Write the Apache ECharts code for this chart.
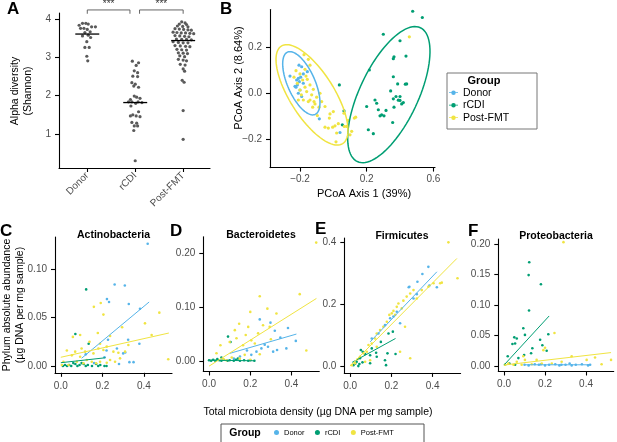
<!DOCTYPE html>
<html>
<head>
<meta charset="utf-8">
<script src="https://cdn.jsdelivr.net/npm/echarts@6/dist/echarts.min.js"></script>
<style>
  html, body { margin: 0; padding: 0; background: #fff; }
  #chart { width: 617px; height: 442px; }
</style>
</head>
<body>
<div id="chart"></div>
<script>
const groups = ['Donor', 'rCDI', 'Post-FMT'];
const groupColors = ['#56B4E9', '#009E73', '#F0E442'];

// panel A: [jitter offset, Shannon]
const aDonor = [[-0.17,3.84],[-0.10,3.89],[-0.03,3.89],[0.02,3.87],[0.09,3.80],[0.17,3.80],[-0.14,3.76],[-0.07,3.76],[0,3.73],[0.06,3.67],[-0.05,3.65],[0.02,3.58],[-0.10,3.56],[0.07,3.52],[-0.01,3.41],[-0.05,3.26],[0.04,3.26],[-0.01,3.03],[0.01,2.91]];
const aRcdi = [[-0.06,2.90],[0.07,2.86],[0.02,2.79],[-0.02,2.65],[0.05,2.60],[-0.05,2.51],[0.05,2.50],[-0.07,2.34],[0,2.30],[-0.03,2.25],[0.07,2.22],[-0.02,1.99],[0.03,1.96],[-0.10,1.90],[0.10,1.93],[-0.14,1.84],[-0.07,1.84],[0.01,1.80],[0.06,1.84],[0.14,1.82],[-0.09,1.73],[0.07,1.58],[-0.10,1.47],[-0.05,1.50],[0.02,1.47],[0.10,1.45],[-0.07,1.30],[0.03,1.28],[-0.02,1.21],[0.05,1.21],[-0.03,1.09],[0,0.30]];
const aPost = [[-0.03,3.93],[0.04,3.90],[-0.08,3.87],[0.07,3.86],[-0.12,3.82],[-0.01,3.81],[0.10,3.80],[-0.17,3.75],[-0.08,3.74],[0.01,3.73],[0.10,3.72],[0.17,3.71],[-0.21,3.66],[-0.13,3.65],[-0.04,3.64],[0.05,3.64],[0.14,3.63],[0.22,3.62],[-0.17,3.57],[-0.07,3.56],[0.03,3.55],[0.12,3.54],[-0.14,3.48],[-0.03,3.47],[0.07,3.47],[0.17,3.46],[-0.21,3.41],[-0.10,3.39],[0,3.38],[0.10,3.38],[-0.17,3.31],[-0.06,3.30],[0.05,3.29],[0.14,3.28],[-0.13,3.21],[-0.03,3.20],[0.07,3.19],[-0.10,3.12],[0,3.11],[0.09,3.10],[-0.07,3.04],[0.03,3.02],[-0.10,2.95],[0,2.93],[0.07,2.91],[-0.06,2.82],[0.04,2.80],[0,2.70],[0.03,2.64],[-0.02,2.40],[0.02,2.35],[0,1.61],[0,0.86]];
const aMedians = [3.61, 1.82, 3.44];
const aBrackets = [[0, 0.89], [1.09, 2.0]];

// panel B: PCoA axis 1, axis 2
const pcoaDonor = [[-0.206,0.121],[-0.19,0.114],[-0.26,0.074],[-0.21,0.064],[-0.22,0.057],[-0.204,0.05],[-0.216,0.036],[-0.224,0.026],[-0.20,0.014],[-0.18,0.043],[-0.156,0.093],[-0.19,-0.014],[-0.084,-0.11],[0.04,-0.169],[-0.18,0.083],[-0.196,0.069],[-0.23,0.03],[-0.21,0.0]];
const pcoaRcdi = [[0.476,0.353],[0.534,0.326],[0.30,0.254],[0.40,0.226],[0.364,0.157],[0.36,0.149],[0.436,0.16],[0.216,0.10],[0.36,0.071],[0.386,0.04],[0.432,0.039],[0.44,0.04],[0.344,0.01],[0.036,0.036],[0.376,-0.014],[0.40,-0.014],[0.36,-0.024],[0.40,-0.031],[0.41,-0.046],[0.364,-0.06],[0.20,-0.057],[0.25,-0.029],[0.26,-0.043],[0.27,-0.071],[0.29,-0.093],[0.28,-0.097],[0.316,-0.074],[0.304,-0.097],[0.356,-0.126],[0.064,-0.076],[0.054,-0.136],[0.21,-0.157],[0.24,-0.174],[0.42,-0.04],[0.39,-0.03]];
const pcoaPost = [[-0.176,0.166],[-0.15,0.146],[-0.14,0.121],[-0.224,0.097],[-0.2,0.083],[-0.17,0.103],[-0.184,0.057],[-0.156,0.06],[-0.14,0.036],[-0.17,0.026],[-0.2,0.014],[-0.16,0.007],[-0.13,-0.007],[-0.10,-0.017],[-0.14,-0.029],[-0.18,-0.029],[-0.21,-0.029],[-0.116,-0.036],[-0.07,-0.036],[-0.05,-0.057],[-0.086,-0.06],[-0.11,-0.046],[-0.02,-0.089],[0.0,-0.079],[-0.024,-0.107],[-0.05,-0.146],[-0.03,-0.15],[0.01,-0.14],[0.03,-0.131],[-0.004,-0.146],[0.016,-0.209],[0.02,-0.171],[0.064,-0.086],[0.09,-0.117],[0.11,-0.164],[0.10,-0.179],[0.126,-0.107],[0.134,-0.103],[0.066,-0.143],[0.08,-0.143],[0.456,0.243],[-0.096,-0.096],[-0.15,-0.036],[-0.124,-0.06],[-0.216,0.043],[-0.192,-0.007],[-0.164,0.074],[-0.12,0.017],[-0.236,0.069],[-0.08,0.0]];
// ellipses: centre x, centre y, semi-axis u (x, y), semi-axis v (x, y), group
const pcoaEllipses = [
  [-0.192, 0.043, 0.083, -0.134, -0.075, -0.024, 0],
  [0.333, -0.006, 0.189, 0.288, 0.159, -0.053, 1],
  [-0.128, -0.007, 0.184, -0.210, -0.113, -0.051, 2]
];

// panels C-F: total density, phylum abundance
const actDonor = [[0.418,0.126],[0.259,0.084],[0.308,0.083],[0.222,0.069],[0.232,0.066],[0.327,0.064],[0.381,0.059],[0.227,0.027],[0.324,0.027],[0.378,0.023],[0.27,0.018],[0.30,0.013],[0.31,0.014],[0.21,0.009],[0.12,0.012],[0.33,0.004],[0.35,0.004],[0.28,0.002],[0.16,0.003],[0.22,0.016]];
const actRcdi = [[0.01,0.0],[0.02,0.001],[0.03,0.0],[0.04,0.001],[0.05,0.0],[0.07,0.002],[0.08,0.0],[0.09,0.001],[0.10,0.003],[0.11,0.002],[0.12,0.0],[0.13,0.001],[0.15,0.0],[0.17,0.002],[0.18,0.0],[0.19,0.001],[0.21,0.0],[0.22,0.0],[0.06,0.003],[0.122,0.079],[0.07,0.033],[0.134,0.023]];
const actPost = [[0.192,0.065],[0.205,0.053],[0.058,0.030],[0.093,0.032],[0.178,0.034],[0.138,0.025],[0.295,0.040],[0.405,0.044],[0.474,0.055],[0.437,0.032],[0.517,0.007],[0.237,0.031],[0.10,0.018],[0.029,0.016],[0.053,0.011],[0.093,0.0096],[0.117,0.0148],[0.157,0.013],[0.181,0.018],[0.205,0.0165],[0.221,0.020],[0.253,0.0148],[0.277,0.0137],[0.309,0.0148],[0.285,0.0079],[0.237,0.0062],[0.189,0.0044],[0.149,0.0044],[0.125,0.0062],[0.077,0.0044],[0.0125,0.0044],[0.005,0.001],[0.037,0.001],[0.109,0.0028],[0.17,0.0028],[0.221,0.0034],[0.261,0.0044],[0.069,0.0148],[0.189,0.023],[0.325,0.0216],[0.159,0.061]];
const bacDonor = [[0.246,0.077],[0.298,0.071],[0.383,0.061],[0.319,0.056],[0.346,0.043],[0.421,0.037],[0.375,0.023],[0.311,0.017],[0.286,0.026],[0.254,0.023],[0.23,0.017],[0.184,0.019],[0.205,0.011],[0.15,0.008],[0.12,0.004],[0.27,0.03],[0.33,0.02]];
const bacRcdi = [[0.0,0.001],[0.01,0.0],[0.02,0.002],[0.03,0.0],[0.04,0.003],[0.05,0.001],[0.06,0.0],[0.07,0.002],[0.09,0.0],[0.1,0.001],[0.12,0.0],[0.13,0.002],[0.15,0.0],[0.17,0.001],[0.19,0.0],[0.2,0.001],[0.22,0.0],[0.092,0.045],[0.104,0.035],[0.06,0.006],[0.14,0.004]];
const bacPost = [[0.246,0.12],[0.44,0.124],[0.52,0.22],[0.283,0.097],[0.2,0.091],[0.327,0.088],[0.146,0.069],[0.262,0.066],[0.125,0.057],[0.238,0.051],[0.178,0.048],[0.1,0.035],[0.133,0.042],[0.205,0.038],[0.222,0.032],[0.036,0.014],[0.055,0.029],[0.165,0.029],[0.472,0.019],[0.173,0.011],[0.246,0.012],[0.149,0.004],[0.084,0.001],[0.294,0.063],[0.19,0.063],[0.07,0.003],[0.11,0.006],[0.2,0.002],[0.3,0.04]];
const firDonor = [[0.379,0.32],[0.35,0.297],[0.326,0.272],[0.284,0.254],[0.384,0.26],[0.42,0.254],[0.307,0.218],[0.287,0.256],[0.323,0.232],[0.226,0.175],[0.194,0.154],[0.169,0.132],[0.137,0.105],[0.105,0.089],[0.242,0.138],[0.21,0.16]];
const firRcdi = [[0.052,0.052],[0.061,0.046],[0.105,0.057],[0.126,0.043],[0.097,0.035],[0.129,0.030],[0.073,0.039],[0.048,0.025],[0.032,0.014],[0.045,0.0065],[0.016,0.003],[0.04,0.0],[0.097,0.009],[0.169,0.019],[0.174,0.003],[0.181,0.041],[0.207,0.111],[0.186,0.105],[0.149,0.078],[0.22,0.039],[0.06,0.012],[0.025,0.008]];
const firPost = [[0.008,0.003],[0.024,0.009],[0.036,0.022],[0.048,0.030],[0.065,0.041],[0.081,0.046],[0.089,0.068],[0.105,0.073],[0.121,0.089],[0.129,0.105],[0.145,0.116],[0.161,0.127],[0.178,0.143],[0.19,0.165],[0.202,0.17],[0.21,0.178],[0.226,0.191],[0.234,0.202],[0.25,0.186],[0.258,0.211],[0.274,0.224],[0.291,0.234],[0.307,0.245],[0.323,0.218],[0.347,0.245],[0.379,0.256],[0.404,0.267],[0.436,0.267],[0.242,0.046],[0.291,0.025],[0.218,0.165],[0.266,0.127],[0.129,0.062],[0.097,0.019],[0.073,0.014],[0.476,0.399],[0.52,0.283],[0.444,0.269]];
const proDonor = [[0.1,0.002],[0.12,0.001],[0.15,0.003],[0.17,0.002],[0.2,0.001],[0.22,0.002],[0.25,0.003],[0.27,0.001],[0.3,0.002],[0.32,0.004],[0.33,0.001],[0.35,0.002],[0.38,0.003],[0.41,0.001],[0.42,0.002],[0.28,0.002],[0.18,0.003]];
const proRcdi = [[0.18,0.134],[0.123,0.17],[0.12,0.149],[0.122,0.091],[0.094,0.062],[0.102,0.051],[0.05,0.047],[0.062,0.045],[0.041,0.036],[0.054,0.037],[0.176,0.043],[0.216,0.052],[0.187,0.034],[0.208,0.025],[0.138,0.029],[0.018,0.016],[0.07,0.013],[0.098,0.018],[0.132,0.021],[0.026,0.004],[0.054,0.002],[0.005,0.002]];
const proPost = [[0.29,0.203],[0.246,0.054],[0.192,0.026],[0.33,0.016],[0.403,0.01],[0.444,0.014],[0.476,0.003],[0.522,0.01],[0.159,0.01],[0.102,0.01],[0.062,0.007],[0.021,0.004],[0.094,0.016],[0.281,0.007],[0.005,0.002],[0.046,0.002],[0.086,0.002],[0.135,0.003],[0.184,0.004],[0.233,0.004],[0.2,0.03]];

// fitted lines [start, end]
const actFit = [[[0.10,0.008],[0.425,0.066]], [[0.0,0.0034],[0.215,0.0085]], [[0.0,0.009],[0.52,0.034]]];
const bacFit = [[[0.10,0.0137],[0.424,0.0497]], [[0.0,0.001],[0.22,0.0]], [[0.0,-0.01],[0.521,0.116]]];
const firFit = [[[0.097,0.078],[0.42,0.304]], [[0.01,0.012],[0.22,0.089]], [[0.0,0.0],[0.517,0.347]]];
const proFit = [[[0.1,0.002],[0.42,0.002]], [[0.0,0.0016],[0.22,0.082]], [[0.0,0.0016],[0.522,0.022]]];

const phyla = ['Actinobacteria', 'Bacteroidetes', 'Firmicutes', 'Proteobacteria'];
const phylumPoints = [[actDonor, actRcdi, actPost], [bacDonor, bacRcdi, bacPost], [firDonor, firRcdi, firPost], [proDonor, proRcdi, proPost]];
const phylumFits = [actFit, bacFit, firFit, proFit];
const phylumTicks = [[0, 0.05, 0.10], [0, 0.10, 0.20], [0, 0.2, 0.4], [0, 0.05, 0.10, 0.15, 0.20]];
const phylumDigits = [2, 2, 1, 2];
const phylumRange = [[-0.007, 0.133], [-0.02, 0.231], [-0.022, 0.413], [-0.009, 0.208]];
const densityTicks = [0, 0.2, 0.4];

const FONT = '"Liberation Sans", Arial, sans-serif';
const fmt = (v, d) => { const s = Math.abs(v).toFixed(d); return v < -1e-9 ? '\u2212' + s : s; };

function valAxis(gridIndex, min, max, ticks, labelFmt, extra) {
  return Object.assign({
    type: 'value', gridIndex, min, max,
    splitLine: { show: false },
    axisLine: { show: true, onZero: false, lineStyle: { color: '#000', width: 1.1 } },
    axisTick: { show: true, length: 4, customValues: ticks, lineStyle: { color: '#000', width: 1.1 } },
    axisLabel: { customValues: ticks, fontSize: 10, fontFamily: FONT, color: '#4d4d4d', margin: 8, formatter: labelFmt }
  }, extra || {});
}

const grids = [
  { left: 59, top: 13, width: 151, height: 155 },
  { left: 270, top: 9.6, width: 165, height: 158 },
  { left: 55, top: 237, width: 117, height: 135.8 },
  { left: 203.3, top: 236.7, width: 116, height: 134.8 },
  { left: 344.3, top: 238, width: 116.3, height: 134.9 },
  { left: 498.3, top: 239.1, width: 115.4, height: 132.4 }
];

const xAxes = [
  valAxis(0, -0.59, 2.56, [0, 1, 2], v => groups[Math.round(v)], {}),
  valAxis(1, -0.38, 0.61, [-0.2, 0.2, 0.6], v => fmt(v, 1), {})
];
xAxes[0].axisLabel.rotate = 45;
xAxes[0].axisLabel.margin = 6;
xAxes[1].axisLabel.margin = 7;
const yAxes = [
  valAxis(0, 0.11, 4.16, [1, 2, 3, 4], v => String(v), {}),
  valAxis(1, -0.32, 0.36, [-0.2, 0, 0.2], v => fmt(v, 1), {})
];
phyla.forEach((p, i) => {
  xAxes.push(valAxis(i + 2, -0.028, 0.535, densityTicks, v => fmt(v, 1), {}));
  yAxes.push(valAxis(i + 2, phylumRange[i][0], phylumRange[i][1], phylumTicks[i], v => fmt(v, phylumDigits[i]), {}));
});

function scatter(name, data, gi, color, size) {
  return { type: 'scatter', name, data, xAxisIndex: gi, yAxisIndex: gi, symbolSize: size,
    itemStyle: { color, opacity: 1 }, silent: true, z: 2 };
}
function fitLine(name, data, gi, color) {
  return { type: 'line', name, data, xAxisIndex: gi, yAxisIndex: gi, symbol: 'none',
    lineStyle: { color, width: 1 }, silent: true, z: 3 };
}

const series = [];
// B first so the legend takes group colours from it
[pcoaDonor, pcoaRcdi, pcoaPost].forEach((d, g) => series.push(scatter(groups[g], d, 1, groupColors[g], 3.2)));
series.push({
  type: 'custom', name: 'ellipse', xAxisIndex: 1, yAxisIndex: 1, data: pcoaEllipses, silent: true, z: 4,
  encode: { x: 0, y: 1 },
  renderItem(params, api) {
    const c = [api.value(0), api.value(1)], u = [api.value(2), api.value(3)], v = [api.value(4), api.value(5)];
    const pts = [];
    for (let i = 0; i <= 96; i++) {
      const t = i / 96 * Math.PI * 2;
      pts.push(api.coord([c[0] + u[0] * Math.cos(t) + v[0] * Math.sin(t), c[1] + u[1] * Math.cos(t) + v[1] * Math.sin(t)]));
    }
    return { type: 'polyline', shape: { points: pts }, style: { stroke: groupColors[api.value(6)], lineWidth: 1.5, fill: null } };
  }
});

// A
[aDonor, aRcdi, aPost].forEach((d, g) => {
  series.push(scatter('A ' + groups[g], d.map(([o, v]) => [g + o, v]), 0, '#5a5a5a', 3.2));
});
series.push({
  type: 'custom', name: 'median', xAxisIndex: 0, yAxisIndex: 0, silent: true, z: 5,
  data: aMedians.map((m, i) => [i, m]),
  renderItem(params, api) {
    const l = api.coord([api.value(0) - 0.25, api.value(1)]);
    const r = api.coord([api.value(0) + 0.25, api.value(1)]);
    return { type: 'line', shape: { x1: l[0], y1: l[1], x2: r[0], y2: r[1] }, style: { stroke: '#000', lineWidth: 1.3 } };
  }
});
series.push({
  type: 'custom', name: 'signif', xAxisIndex: 0, yAxisIndex: 0, silent: true, clip: false,
  data: aBrackets,
  renderItem(params, api) {
    const x0 = api.value(0), x1 = api.value(1);
    const pts = [api.coord([x0, 4.14]), api.coord([x0, 4.24]), api.coord([x1, 4.24]), api.coord([x1, 4.14])];
    const t = api.coord([(x0 + x1) / 2, 4.40]);
    return { type: 'group', children: [
      { type: 'polyline', shape: { points: pts }, style: { stroke: '#555', lineWidth: 0.9, fill: null } },
      { type: 'text', x: t[0], y: t[1], style: { text: '***', fontSize: 10, fontFamily: FONT, fill: '#333', align: 'center', verticalAlign: 'middle' } }
    ] };
  }
});

// C-F
phylumPoints.forEach((sets, i) => {
  sets.forEach((d, g) => series.push(scatter(phyla[i] + ' ' + groups[g], d, i + 2, groupColors[g], 2.6)));
  phylumFits[i].forEach((d, g) => series.push(fitLine(phyla[i] + ' fit ' + groups[g], d, i + 2, groupColors[g])));
});

const txt = (text, x, y, size, opts) => Object.assign({
  type: 'text', x, y, silent: true,
  style: Object.assign({ text, fontSize: size, fontFamily: FONT, fill: '#000', align: 'center', verticalAlign: 'middle' }, (opts && opts.style) || {})
}, (opts && opts.el) || {});

const graphic = [
  txt('A', 7, 9, 17, { style: { fontWeight: 'bold', align: 'left' } }),
  txt('B', 220, 9, 17, { style: { fontWeight: 'bold', align: 'left' } }),
  txt('C', 0, 231, 17, { style: { fontWeight: 'bold', align: 'left' } }),
  txt('D', 170, 231, 17, { style: { fontWeight: 'bold', align: 'left' } }),
  txt('E', 315, 229, 17, { style: { fontWeight: 'bold', align: 'left' } }),
  txt('F', 468, 231, 17, { style: { fontWeight: 'bold', align: 'left' } }),
  txt('Alpha diversity\n(Shannon)', 21.5, 91, 10.5, { style: { lineHeight: 13 }, el: { rotation: Math.PI / 2 } }),
  txt('PCoA Axis 2 (8.64%)', 239, 78, 11, { el: { rotation: Math.PI / 2 } }),
  txt('PCoA Axis 1 (39%)', 364, 194, 11),
  txt('Phylum absolute abundance\n(\u00b5g DNA per mg sample)', 13.5, 305, 10.5, { style: { lineHeight: 13 }, el: { rotation: Math.PI / 2 } }),
  txt('Total microbiota density (\u00b5g DNA per mg sample)', 318, 412, 10.5),
  txt('Actinobacteria', 113.5, 235.5, 10.5, { style: { fontWeight: 'bold' } }),
  txt('Bacteroidetes', 261, 235.5, 10.5, { style: { fontWeight: 'bold' } }),
  txt('Firmicutes', 402, 236, 10.5, { style: { fontWeight: 'bold' } }),
  txt('Proteobacteria', 556, 236, 10.5, { style: { fontWeight: 'bold' } }),
  { type: 'rect', silent: true, shape: { x: 447, y: 73, width: 90, height: 56 }, style: { fill: '#fff', stroke: '#777', lineWidth: 1 }, z: -1 },
  txt('Group', 484, 81, 11, { style: { fontWeight: 'bold' } }),
  { type: 'rect', silent: true, shape: { x: 221, y: 424, width: 203, height: 22 }, style: { fill: '#fff', stroke: '#555', lineWidth: 1 }, z: -1 },
  txt('Group', 245, 432.7, 10.5, { style: { fontWeight: 'bold' } })
];

const legendPath = 'path://M0,4.3H18V5.7H0Z M13.5,5A4.5,4.5 0 1,1 4.5,5A4.5,4.5 0 1,1 13.5,5Z';

const option = {
  animation: false,
  backgroundColor: '#fff',
  textStyle: { fontFamily: FONT },
  grid: grids,
  xAxis: xAxes,
  yAxis: yAxes,
  legend: [
    { data: groups, orient: 'vertical', left: 449, top: 86.7, icon: legendPath, itemWidth: 9, itemHeight: 4.5,
      itemGap: 0.5, selectedMode: false, padding: 0, textStyle: { fontSize: 10.5, lineHeight: 12, color: '#000', fontFamily: FONT } },
    { data: groups, orient: 'horizontal', left: 274, top: 428.5, icon: 'circle', itemWidth: 5, itemHeight: 5,
      itemGap: 10.5, selectedMode: false, padding: 0, textStyle: { fontSize: 7.5, color: '#000', fontFamily: FONT } }
  ],
  graphic,
  series
};

const chart = echarts.init(document.getElementById('chart'), null, { renderer: 'canvas' });
chart.setOption(option);
</script>
</body>
</html>
